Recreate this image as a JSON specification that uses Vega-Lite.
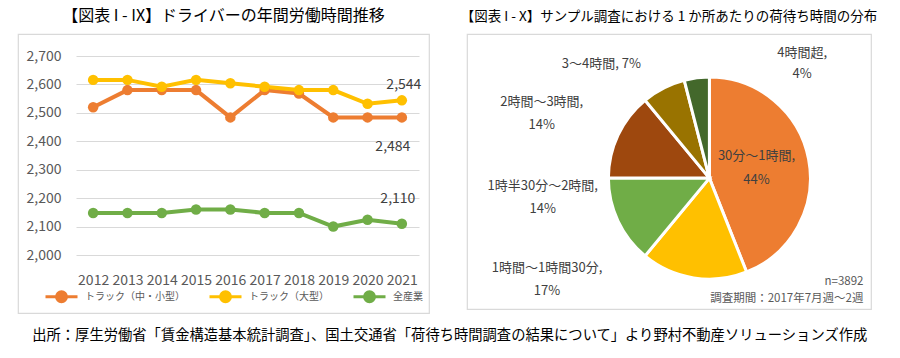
{
  "$schema": "https://vega.github.io/schema/vega-lite/v6.json",
  "background": "white",
  "padding": {"left": 17, "top": 7, "right": 5, "bottom": 5},
  "bounds": "flush",
  "spacing": 38,
  "resolve": {
    "scale": {"x": "independent", "y": "independent", "color": "independent", "theta": "independent"},
    "axis": {"x": "independent", "y": "independent"},
    "legend": {"color": "independent"}
  },
  "config": {
    "font": "Noto Sans CJK JP",
    "view": {"stroke": "#D9D9D9", "strokeWidth": 1.2},
    "title": {"fontWeight": "normal", "color": "#000000", "font": "Noto Sans CJK JP"},
    "axis": {"labelFont": "Noto Sans CJK JP", "titleFont": "Noto Sans CJK JP"},
    "legend": {"labelFont": "Noto Sans CJK JP"},
    "text": {"font": "Noto Sans CJK JP"}
  },
  "title": {
    "text": "出所：厚生労働省「賃金構造基本統計調査」、国土交通省「荷待ち時間調査の結果について」より野村不動産ソリューションズ作成",
    "orient": "bottom", "anchor": "middle", "fontSize": 14.3, "offset": 15, "dx": 2
  },
  "hconcat": [
    {
      "width": 411,
      "height": 279,
      "title": {"text": "【図表 I - IX】ドライバーの年間労働時間推移", "fontSize": 16, "offset": 10},
      "data": {"values": [
        {"year": 2012, "series": "トラック（中・小型）", "value": 2520},
        {"year": 2013, "series": "トラック（中・小型）", "value": 2580},
        {"year": 2014, "series": "トラック（中・小型）", "value": 2580},
        {"year": 2015, "series": "トラック（中・小型）", "value": 2580},
        {"year": 2016, "series": "トラック（中・小型）", "value": 2484},
        {"year": 2017, "series": "トラック（中・小型）", "value": 2580},
        {"year": 2018, "series": "トラック（中・小型）", "value": 2568},
        {"year": 2019, "series": "トラック（中・小型）", "value": 2484},
        {"year": 2020, "series": "トラック（中・小型）", "value": 2484},
        {"year": 2021, "series": "トラック（中・小型）", "value": 2484},
        {"year": 2012, "series": "トラック（大型）", "value": 2616},
        {"year": 2013, "series": "トラック（大型）", "value": 2616},
        {"year": 2014, "series": "トラック（大型）", "value": 2592},
        {"year": 2015, "series": "トラック（大型）", "value": 2616},
        {"year": 2016, "series": "トラック（大型）", "value": 2604},
        {"year": 2017, "series": "トラック（大型）", "value": 2592},
        {"year": 2018, "series": "トラック（大型）", "value": 2580},
        {"year": 2019, "series": "トラック（大型）", "value": 2580},
        {"year": 2020, "series": "トラック（大型）", "value": 2532},
        {"year": 2021, "series": "トラック（大型）", "value": 2544},
        {"year": 2012, "series": "全産業", "value": 2148},
        {"year": 2013, "series": "全産業", "value": 2148},
        {"year": 2014, "series": "全産業", "value": 2148},
        {"year": 2015, "series": "全産業", "value": 2160},
        {"year": 2016, "series": "全産業", "value": 2160},
        {"year": 2017, "series": "全産業", "value": 2148},
        {"year": 2018, "series": "全産業", "value": 2148},
        {"year": 2019, "series": "全産業", "value": 2100},
        {"year": 2020, "series": "全産業", "value": 2124},
        {"year": 2021, "series": "全産業", "value": 2110}
      ]},
      "encoding": {
        "x": {
          "field": "year", "type": "quantitative",
          "scale": {"domain": [2011.5, 2021.5], "range": [58, 401], "nice": false, "zero": false},
          "axis": {
            "values": [2012, 2013, 2014, 2015, 2016, 2017, 2018, 2019, 2020, 2021],
            "labelExpr": "format(datum.value, 'd')", "grid": false, "ticks": false, "domain": false,
            "labelFontSize": 14, "labelColor": "#595959", "labelPadding": 0,
            "offset": -40, "title": null, "labelFlush": false, "labelOverlap": false
          }
        },
        "y": {
          "field": "value", "type": "quantitative",
          "scale": {"domain": [2000, 2700], "range": [221, 22], "nice": false, "zero": false},
          "axis": {
            "values": [2000, 2100, 2200, 2300, 2400, 2500, 2600, 2700],
            "labelExpr": "format(datum.value, ',')", "grid": true, "gridColor": "#D9D9D9", "gridWidth": 1,
            "ticks": false, "domain": false,
            "labelFontSize": 14, "labelColor": "#595959", "labelPadding": 2,
            "offset": -45, "title": null
          }
        }
      },
      "layer": [
        {
          "mark": {"type": "line", "strokeWidth": 4, "point": {"filled": true, "size": 110, "opacity": 1}},
          "encoding": {
            "color": {
              "field": "series", "type": "nominal",
              "scale": {"domain": ["トラック（中・小型）", "トラック（大型）", "全産業"], "range": ["#ED7D31", "#FFC000", "#70AD47"]},
              "legend": {
                "orient": "none", "legendX": 37, "legendY": 256, "direction": "horizontal", "title": null,
                "symbolType": "M-3.2,0L3.2,0M-1,0a1,1 0 1,0 2,0a1,1 0 1,0 -2,0",
                "symbolSize": 100, "symbolStrokeWidth": 3,
                "labelFontSize": 10, "labelColor": "#595959", "labelOffset": 17, "columnPadding": 18,
                "encode": {"symbols": {"update": {"fill": {"scale": "color", "field": "value"}, "stroke": {"scale": "color", "field": "value"}}}}
              }
            }
          }
        },
        {
          "transform": [{"filter": "datum.year == 2021 && datum.series == 'トラック（大型）'"}],
          "mark": {"type": "text", "fontSize": 14, "color": "#404040", "dx": 2, "dy": -15},
          "encoding": {"text": {"field": "value", "type": "quantitative", "format": ",d"}}
        },
        {
          "transform": [{"filter": "datum.year == 2021 && datum.series == 'トラック（中・小型）'"}],
          "mark": {"type": "text", "fontSize": 14, "color": "#404040", "dx": -9, "dy": 30},
          "encoding": {"text": {"field": "value", "type": "quantitative", "format": ",d"}}
        },
        {
          "transform": [{"filter": "datum.year == 2021 && datum.series == '全産業'"}],
          "mark": {"type": "text", "fontSize": 14, "color": "#404040", "dx": -4, "dy": -25},
          "encoding": {"text": {"field": "value", "type": "quantitative", "format": ",d"}}
        }
      ]
    },
    {
      "width": 404,
      "height": 275,
      "title": {"text": "【図表 I - X】サンプル調査における 1 か所あたりの荷待ち時間の分布", "fontSize": 13.5, "offset": 11},
      "data": {"values": [
        {"cat": "30分～1時間", "pct": 44, "order": 1, "label": "30分～1時間,\n44%"},
        {"cat": "1時間～1時間30分", "pct": 17, "order": 2, "label": "1時間～1時間30分,\n17%"},
        {"cat": "1時半30分～2時間", "pct": 14, "order": 3, "label": "1時半30分～2時間,\n14%"},
        {"cat": "2時間～3時間", "pct": 14, "order": 4, "label": "2時間～3時間,\n14%"},
        {"cat": "3～4時間", "pct": 7, "order": 5, "label": "3～4時間, 7%"},
        {"cat": "4時間超", "pct": 4, "order": 6, "label": "4時間超,\n4%"}
      ]},
      "encoding": {
        "theta": {"field": "pct", "type": "quantitative", "stack": true},
        "order": {"field": "order", "type": "quantitative"},
        "x": {
          "datum": 0.6, "type": "quantitative", "scale": {"domain": [0, 1]},
          "axis": {
            "orient": "bottom", "labels": false, "ticks": false, "domain": false, "grid": false,
            "title": ["n=3892", "調査期間：2017年7月週～2週"],
            "titleFontSize": 11.5, "titleFontWeight": "normal", "titleColor": "#595959",
            "titleAlign": "right", "titleAnchor": "end", "titleX": 396, "titleY": -34,
            "titleBaseline": "top", "titleLineHeight": 17,
            "encode": {"title": {"update": {"lineHeight": {"value": 17}}}}
          }
        },
        "y": {"datum": 0.476, "type": "quantitative", "scale": {"domain": [0, 1]}, "axis": null}
      },
      "layer": [
        {
          "mark": {"type": "arc", "outerRadius": 101, "stroke": "white", "strokeWidth": 3},
          "encoding": {
            "color": {
              "field": "cat", "type": "nominal",
              "scale": {
                "domain": ["30分～1時間", "1時間～1時間30分", "1時半30分～2時間", "2時間～3時間", "3～4時間", "4時間超"],
                "range": ["#ED7D31", "#FFC000", "#70AD47", "#9E480E", "#997300", "#43682B"]
              },
              "legend": null
            }
          }
        },
        {
          "mark": {"type": "text", "clip": true, "radius": 50, "dx": -2, "dy": -13, "fontSize": 13, "color": "#404040", "lineBreak": "\n", "lineHeight": 24},
          "encoding": {"detail": {"field": "cat"}, "text": {"condition": {"test": "datum.order == 1", "field": "label"}, "value": ""}}
        },
        {
          "mark": {"type": "text", "clip": true, "radius": 130, "dx": -142, "dy": -38, "fontSize": 13, "color": "#404040", "lineBreak": "\n", "lineHeight": 23},
          "encoding": {"detail": {"field": "cat"}, "text": {"condition": {"test": "datum.order == 2", "field": "label"}, "value": ""}}
        },
        {
          "mark": {"type": "text", "clip": true, "radius": 140, "dx": -40, "dy": -52, "fontSize": 13, "color": "#404040", "lineBreak": "\n", "lineHeight": 23},
          "encoding": {"detail": {"field": "cat"}, "text": {"condition": {"test": "datum.order == 3", "field": "label"}, "value": ""}}
        },
        {
          "mark": {"type": "text", "clip": true, "radius": 150, "dx": -32, "dy": -12, "fontSize": 13, "color": "#404040", "lineBreak": "\n", "lineHeight": 23},
          "encoding": {"detail": {"field": "cat"}, "text": {"condition": {"test": "datum.order == 4", "field": "label"}, "value": ""}}
        },
        {
          "mark": {"type": "text", "clip": true, "radius": 150, "dx": -40, "dy": 20, "fontSize": 13, "color": "#404040", "lineBreak": "\n", "lineHeight": 23},
          "encoding": {"detail": {"field": "cat"}, "text": {"condition": {"test": "datum.order == 5", "field": "label"}, "value": ""}}
        },
        {
          "mark": {"type": "text", "clip": true, "radius": 130, "dx": 109, "dy": 4, "fontSize": 13, "color": "#404040", "lineBreak": "\n", "lineHeight": 21},
          "encoding": {"detail": {"field": "cat"}, "text": {"condition": {"test": "datum.order == 6", "field": "label"}, "value": ""}}
        }
      ]
    }
  ]
}
